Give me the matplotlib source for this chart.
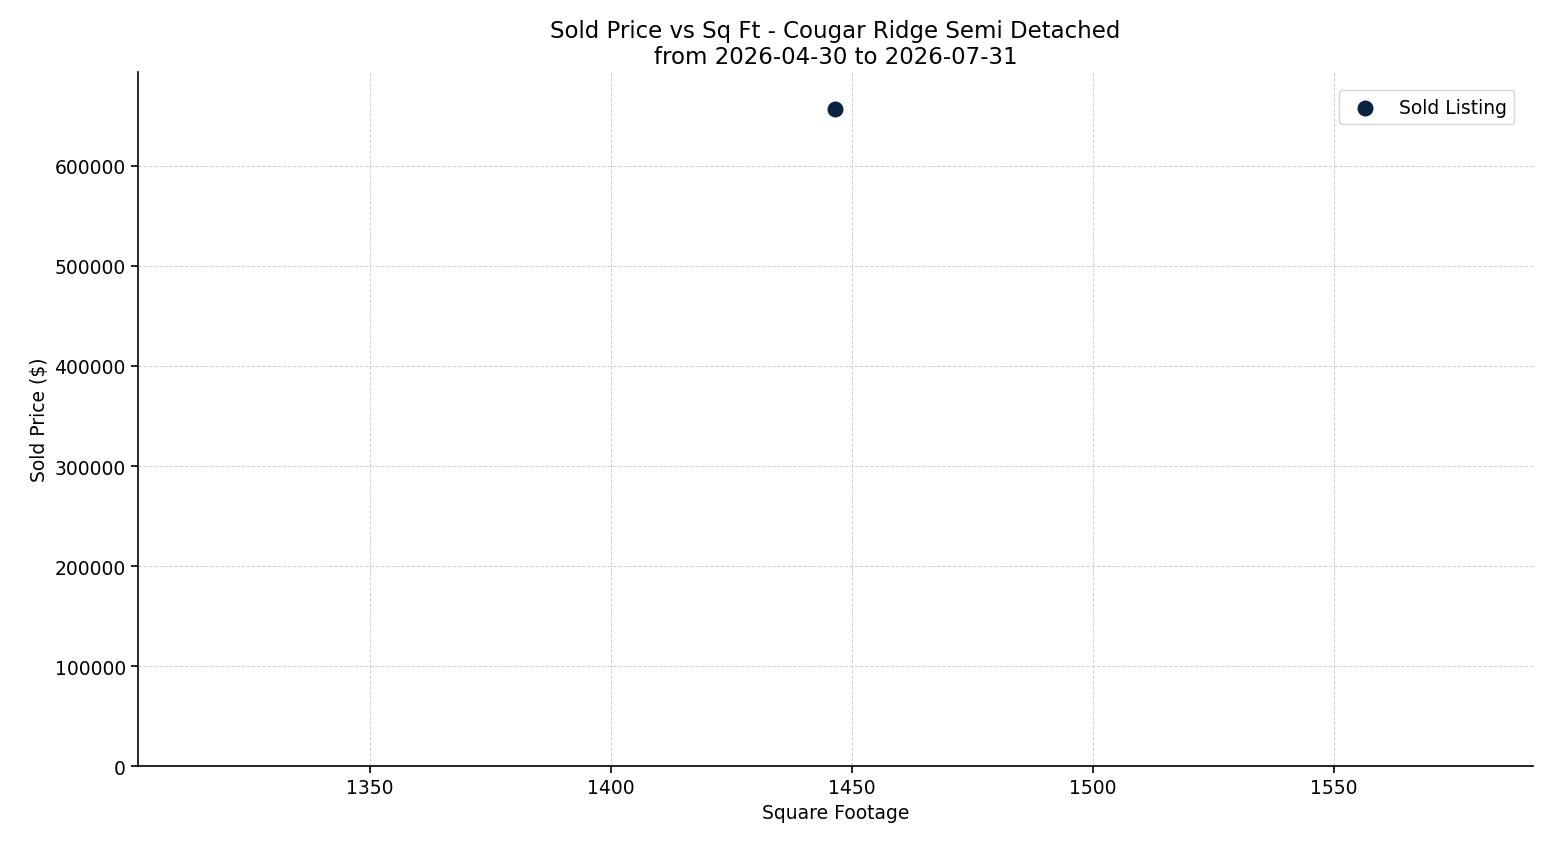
import matplotlib
matplotlib.use("Agg")
import matplotlib.pyplot as plt

sqft = [1446.5]
price = [657000]

fig, ax = plt.subplots(figsize=(15.47, 8.45), dpi=100)
ax.scatter(sqft, price, s=110, color="#0b2140", label="Sold Listing", zorder=3)
ax.set_xlim(1301.9, 1591.3)
ax.set_ylim(0, 694000)
ax.set_xticks([1350, 1400, 1450, 1500, 1550])
ax.grid(True, linestyle="--", linewidth=0.7, color="#d0d0d0")
ax.set_axisbelow(True)
for s in ["top", "right"]:
    ax.spines[s].set_visible(False)
ax.spines["left"].set_linewidth(1.2)
ax.spines["bottom"].set_linewidth(1.2)
ax.set_xlabel("Square Footage", fontsize=13.5)
ax.set_ylabel("Sold Price ($)", fontsize=13.5)
ax.tick_params(labelsize=13.5, width=1.2, length=5)
ax.set_title("Sold Price vs Sq Ft - Cougar Ridge Semi Detached\nfrom 2026-04-30 to 2026-07-31", fontsize=16.5)
ax.legend(loc="upper right", fontsize=13.5, borderaxespad=1.0)
fig.subplots_adjust(left=0.089, right=0.991, top=0.914, bottom=0.092)
fig.savefig("out.png", dpi=100)
